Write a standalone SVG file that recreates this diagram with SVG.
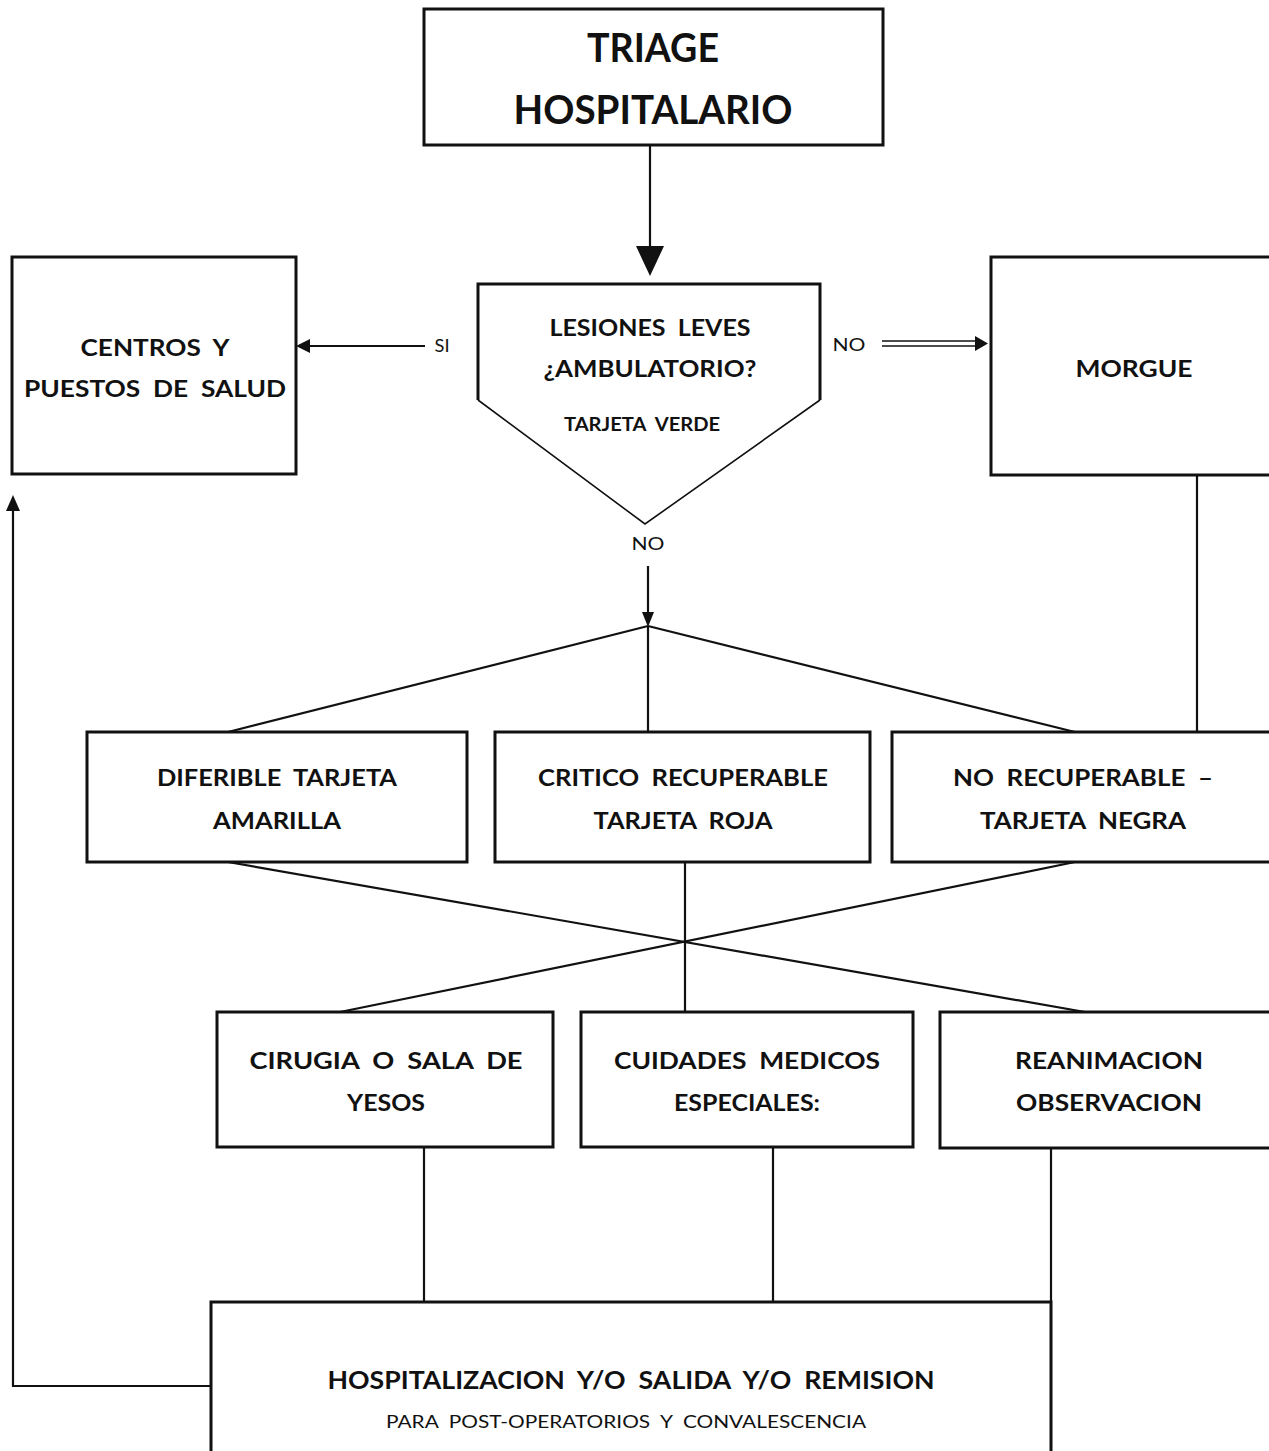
<svg xmlns="http://www.w3.org/2000/svg" width="1269" height="1451" viewBox="0 0 1269 1451">
<style>
.box{fill:#fff;stroke:#111;stroke-width:3}
.ln{fill:none;stroke:#111;stroke-width:2.2}
.thin{fill:none;stroke:#111;stroke-width:1.6}
text{white-space:pre}
.t{font-family:Lato,"Open Sans","Liberation Sans",sans-serif;font-weight:bold;fill:#111;text-anchor:middle}
.r{font-family:Lato,"Open Sans","Liberation Sans",sans-serif;font-weight:normal;fill:#111;text-anchor:middle}
</style>
<rect width="1269" height="1451" fill="#fff"/>

<g id="connectors">
<line class="ln" x1="650" y1="145" x2="650" y2="250"/>
<path d="M636,246 L664,246 L650,276 z" fill="#111"/>
<line class="ln" x1="425" y1="346" x2="308" y2="346"/>
<path d="M310,339 L310,353 L296,346 z" fill="#111"/>
<line class="thin" x1="882" y1="341" x2="976" y2="341"/>
<line class="thin" x1="882" y1="346" x2="976" y2="346"/>
<path d="M975,336 L975,351 L988,343.5 z" fill="#111"/>
<line class="ln" x1="648" y1="566" x2="648" y2="614"/>
<path d="M642,612 L654,612 L648,627 z" fill="#111"/>
<line class="ln" x1="648" y1="626" x2="228" y2="732"/>
<line class="ln" x1="648" y1="626" x2="648" y2="732"/>
<line class="ln" x1="648" y1="626" x2="1075" y2="732"/>
<line class="ln" x1="1197" y1="732" x2="1197" y2="475"/>
<line class="ln" x1="228" y1="862" x2="1085" y2="1012"/>
<line class="ln" x1="1075" y1="862" x2="340" y2="1012"/>
<line class="ln" x1="685" y1="862" x2="685" y2="1012"/>
<line class="ln" x1="424" y1="1148" x2="424" y2="1302"/>
<line class="ln" x1="773" y1="1148" x2="773" y2="1302"/>
<line class="ln" x1="1051" y1="1148" x2="1051" y2="1302"/>
<polyline class="ln" points="211,1386 13,1386 13,508"/>
<path d="M6,511 L20,511 L13,495 z" fill="#111"/>
</g>

<g id="triage">
<rect class="box" x="424" y="9" width="459" height="136"/>
<text class="t" x="653" y="62" font-size="40" textLength="132" lengthAdjust="spacingAndGlyphs">TRIAGE</text>
<text class="t" x="653" y="124" font-size="40" textLength="279" lengthAdjust="spacingAndGlyphs">HOSPITALARIO</text>
</g>

<g id="lesiones">
<path d="M478,400 L478,284 L820,284 L820,400" fill="none" stroke="#111" stroke-width="3"/>
<path d="M478,400 L645,524 L820,400" class="thin"/>
<text class="t" x="650" y="336" font-size="23" textLength="201" lengthAdjust="spacingAndGlyphs">LESIONES  LEVES</text>
<text class="t" x="650" y="377" font-size="23" textLength="213" lengthAdjust="spacingAndGlyphs">¿AMBULATORIO?</text>
<text class="t" x="642" y="431" font-size="18" textLength="156" lengthAdjust="spacingAndGlyphs">TARJETA  VERDE</text>
</g>

<g id="labels">
<text class="r" x="442" y="352" font-size="17" textLength="15" lengthAdjust="spacingAndGlyphs">SI</text>
<text class="r" x="849" y="351" font-size="18" textLength="33" lengthAdjust="spacingAndGlyphs">NO</text>
<text class="r" x="648" y="550" font-size="18" textLength="33" lengthAdjust="spacingAndGlyphs">NO</text>
</g>

<g id="centros">
<rect class="box" x="12" y="257" width="284" height="217"/>
<text class="t" x="155" y="356" font-size="23" textLength="149" lengthAdjust="spacingAndGlyphs">CENTROS  Y</text>
<text class="t" x="155" y="397" font-size="23" textLength="262" lengthAdjust="spacingAndGlyphs">PUESTOS  DE  SALUD</text>
</g>

<g id="morgue">
<rect class="box" x="991" y="257" width="290" height="218"/>
<text class="t" x="1134" y="377" font-size="23" textLength="117" lengthAdjust="spacingAndGlyphs">MORGUE</text>
</g>

<g id="diferible">
<rect class="box" x="87" y="732" width="380" height="130"/>
<text class="t" x="277" y="786" font-size="23" textLength="240" lengthAdjust="spacingAndGlyphs">DIFERIBLE  TARJETA</text>
<text class="t" x="277" y="829" font-size="23" textLength="128" lengthAdjust="spacingAndGlyphs">AMARILLA</text>
</g>

<g id="critico">
<rect class="box" x="495" y="732" width="375" height="130"/>
<text class="t" x="683" y="786" font-size="23" textLength="290" lengthAdjust="spacingAndGlyphs">CRITICO  RECUPERABLE</text>
<text class="t" x="683" y="829" font-size="23" textLength="179" lengthAdjust="spacingAndGlyphs">TARJETA  ROJA</text>
</g>

<g id="norecuperable">
<rect class="box" x="892" y="732" width="390" height="130"/>
<text class="t" x="1083" y="786" font-size="23" textLength="260" lengthAdjust="spacingAndGlyphs">NO  RECUPERABLE  –</text>
<text class="t" x="1083" y="829" font-size="23" textLength="206" lengthAdjust="spacingAndGlyphs">TARJETA  NEGRA</text>
</g>

<g id="cirugia">
<rect class="box" x="217" y="1012" width="336" height="135"/>
<text class="t" x="386" y="1069" font-size="23" textLength="273" lengthAdjust="spacingAndGlyphs">CIRUGIA  O  SALA  DE</text>
<text class="t" x="386" y="1111" font-size="23" textLength="78" lengthAdjust="spacingAndGlyphs">YESOS</text>
</g>

<g id="cuidados">
<rect class="box" x="581" y="1012" width="332" height="135"/>
<text class="t" x="747" y="1069" font-size="23" textLength="266" lengthAdjust="spacingAndGlyphs">CUIDADES  MEDICOS</text>
<text class="t" x="747" y="1111" font-size="23" textLength="146" lengthAdjust="spacingAndGlyphs">ESPECIALES:</text>
</g>

<g id="reanimacion">
<rect class="box" x="940" y="1012" width="342" height="136"/>
<text class="t" x="1109" y="1069" font-size="23" textLength="188" lengthAdjust="spacingAndGlyphs">REANIMACION</text>
<text class="t" x="1109" y="1111" font-size="23" textLength="186" lengthAdjust="spacingAndGlyphs">OBSERVACION</text>
</g>

<g id="hospitalizacion">
<rect class="box" x="211" y="1302" width="840" height="160"/>
<text class="t" x="631" y="1389" font-size="24" textLength="607" lengthAdjust="spacingAndGlyphs">HOSPITALIZACION  Y/O  SALIDA  Y/O  REMISION</text>
<text class="r" x="626" y="1428" font-size="18" textLength="480" lengthAdjust="spacingAndGlyphs">PARA  POST-OPERATORIOS  Y  CONVALESCENCIA</text>
</g>
</svg>
